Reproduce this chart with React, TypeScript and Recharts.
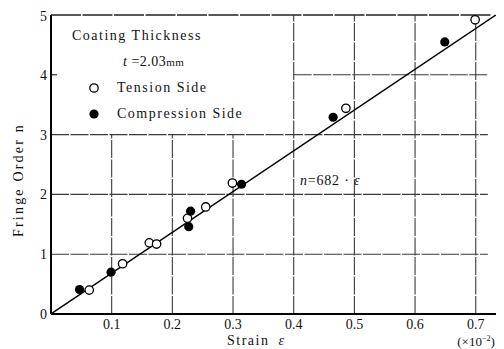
import { ScatterChart, Scatter, XAxis, YAxis, ReferenceLine, ReferenceDot, Legend } from 'recharts'

const FONT = '"Liberation Serif", "DejaVu Serif", serif'

// strain (x10^-2) / fringe order
const tensionSide = [
    { x: 0.063, y: 0.40 },
    { x: 0.118, y: 0.84 },
    { x: 0.162, y: 1.19 },
    { x: 0.174, y: 1.17 },
    { x: 0.225, y: 1.60 },
    { x: 0.255, y: 1.79 },
    { x: 0.299, y: 2.19 },
    { x: 0.486, y: 3.44 },
    { x: 0.699, y: 4.92 },
]

const compressionSide = [
    { x: 0.047, y: 0.41 },
    { x: 0.099, y: 0.70 },
    { x: 0.227, y: 1.46 },
    { x: 0.230, y: 1.72 },
    { x: 0.314, y: 2.17 },
    { x: 0.465, y: 3.29 },
    { x: 0.649, y: 4.55 },
]

// n = 682 * eps
const fitLine = [
    { x: 0, y: 0 },
    { x: 0.733, y: 5.0 },
]

const xTicks = [0.1, 0.2, 0.3, 0.4, 0.5, 0.6, 0.7]
const yTicks = [0, 1, 2, 3, 4, 5]
const shortGridX = [0.1, 0.2, 0.3]
const longGridX = [0.4, 0.5, 0.6, 0.7]
const fullGridY = [1, 2, 3]

const GRID = '#3a3a3a'

const OpenDot = (props: any) => (
    <circle cx={props.cx} cy={props.cy} r={4.2} fill="#fff" stroke="#000" strokeWidth={1.3} />
)
const FilledDot = (props: any) => (
    <circle cx={props.cx} cy={props.cy} r={4.6} fill="#000" />
)
const NoDot = () => <g />

const renderLegend = () => (
    <div style={{ fontFamily: FONT, fontSize: 14, letterSpacing: 1.5, color: '#111', lineHeight: '26px', whiteSpace: 'nowrap' }}>
        <div>Coating Thickness</div>
        <div style={{ paddingLeft: 51, letterSpacing: 0.5 }}>
            <i>t</i> =2.03<span style={{ fontSize: 11 }}>mm</span>
        </div>
        <div style={{ display: 'flex', alignItems: 'center' }}>
            <svg width={45} height={26}>
                <circle cx={22} cy={13} r={4.2} fill="#fff" stroke="#000" strokeWidth={1.3} />
            </svg>
            <span>Tension Side</span>
        </div>
        <div style={{ display: 'flex', alignItems: 'center' }}>
            <svg width={45} height={26}>
                <circle cx={22} cy={13} r={4.6} fill="#000" />
            </svg>
            <span>Compression Side</span>
        </div>
    </div>
)

const renderXLabel = (props: any) => {
    const vb = props.viewBox
    return (
        <g fontFamily={FONT} fill="#111">
            <text x={vb.x + 176} y={vb.y + 31} fontSize={14} letterSpacing={1.5}>
                Strain<tspan dx={9} fontStyle="italic">ε</tspan>
            </text>
            <text x={vb.x + 425} y={vb.y + 32} fontSize={13} textAnchor="middle">
                (×10<tspan dy={-5} fontSize={8}>−2</tspan><tspan dy={5}>)</tspan>
            </text>
        </g>
    )
}

const renderYLabel = (props: any) => {
    const vb = props.viewBox
    const cx = vb.x + 12
    const cy = 172
    return (
        <text
            x={cx}
            y={cy}
            transform={`rotate(-90 ${cx} ${cy})`}
            textAnchor="middle"
            dominantBaseline="middle"
            fontFamily={FONT}
            fontSize={14}
            letterSpacing={2.2}
            fill="#111"
        >
            Fringe Order n
        </text>
    )
}

const renderFitLabel = (props: any) => {
    const vb = props.viewBox
    return (
        <text x={vb.x} y={vb.y + 5} textAnchor="middle" fontSize={14} letterSpacing={0.8} fill="#111" fontFamily={FONT}>
            <tspan fontStyle="italic">n</tspan>=682 · <tspan fontStyle="italic">ε</tspan>
        </text>
    )
}

export default function App() {
    return (
        <div style={{ background: '#fff', width: 496 }}>
            <ScatterChart
                width={496}
                height={341}
                margin={{ top: 7, right: 4, left: 0, bottom: 0 }}
                style={{ fontFamily: FONT }}
            >
                <XAxis
                    type="number"
                    dataKey="x"
                    domain={[0, 0.74]}
                    ticks={xTicks}
                    height={35}
                    tickLine={false}
                    tickSize={0}
                    tickMargin={5}
                    axisLine={{ stroke: '#000', strokeWidth: 2 }}
                    tick={{ fill: '#111', fontSize: 14, fontFamily: FONT }}
                    allowDataOverflow
                    label={{ content: renderXLabel }}
                />
                <YAxis
                    type="number"
                    dataKey="y"
                    domain={[0, 5]}
                    ticks={yTicks}
                    width={43}
                    tickLine={false}
                    tickSize={0}
                    tickMargin={4}
                    axisLine={{ stroke: '#000', strokeWidth: 2 }}
                    tick={{ fill: '#111', fontSize: 14, fontFamily: FONT }}
                    label={{ content: renderYLabel }}
                />

                {/* grid, broken around the legend box */}
                {fullGridY.map(v => (
                    <ReferenceLine key={`hy${v}`} segment={[{ x: 0, y: v }, { x: 0.72, y: v }]} stroke={GRID} strokeWidth={1.1} strokeDasharray="18 1.5" />
                ))}
                <ReferenceLine segment={[{ x: 0.4, y: 4 }, { x: 0.72, y: 4 }]} stroke={GRID} strokeWidth={1.1} strokeDasharray="18 1.5" />
                <ReferenceLine segment={[{ x: 0, y: 4 }, { x: 0.01, y: 4 }]} stroke="#000" strokeWidth={1} />
                <ReferenceLine segment={[{ x: 0, y: 5 }, { x: 0.725, y: 5 }]} stroke="#222" strokeWidth={1.4} strokeDasharray="30 1.5" />
                {shortGridX.map(v => (
                    <ReferenceLine key={`sx${v}`} segment={[{ x: v, y: 0 }, { x: v, y: 3 }]} stroke={GRID} strokeWidth={1.1} strokeDasharray="18 1.5" />
                ))}
                {longGridX.map(v => (
                    <ReferenceLine key={`lx${v}`} segment={[{ x: v, y: 0 }, { x: v, y: 5 }]} stroke={GRID} strokeWidth={1.1} strokeDasharray="18 1.5" />
                ))}

                <Scatter
                    name="fit"
                    data={fitLine}
                    line={{ stroke: '#000', strokeWidth: 1.5 }}
                    shape={NoDot}
                    isAnimationActive={false}
                    legendType="none"
                />
                <Scatter name="Tension Side" data={tensionSide} shape={OpenDot} isAnimationActive={false} />
                <Scatter name="Compression Side" data={compressionSide} shape={FilledDot} isAnimationActive={false} />

                <ReferenceDot x={0.46} y={2.24} r={0} fill="none" stroke="none" label={{ content: renderFitLabel }} />

                <Legend
                    content={renderLegend}
                    layout="vertical"
                    align="center"
                    verticalAlign="middle"
                    wrapperStyle={{ position: 'absolute', top: 15, left: 64, width: 'auto' }}
                />
            </ScatterChart>
        </div>
    )
}
